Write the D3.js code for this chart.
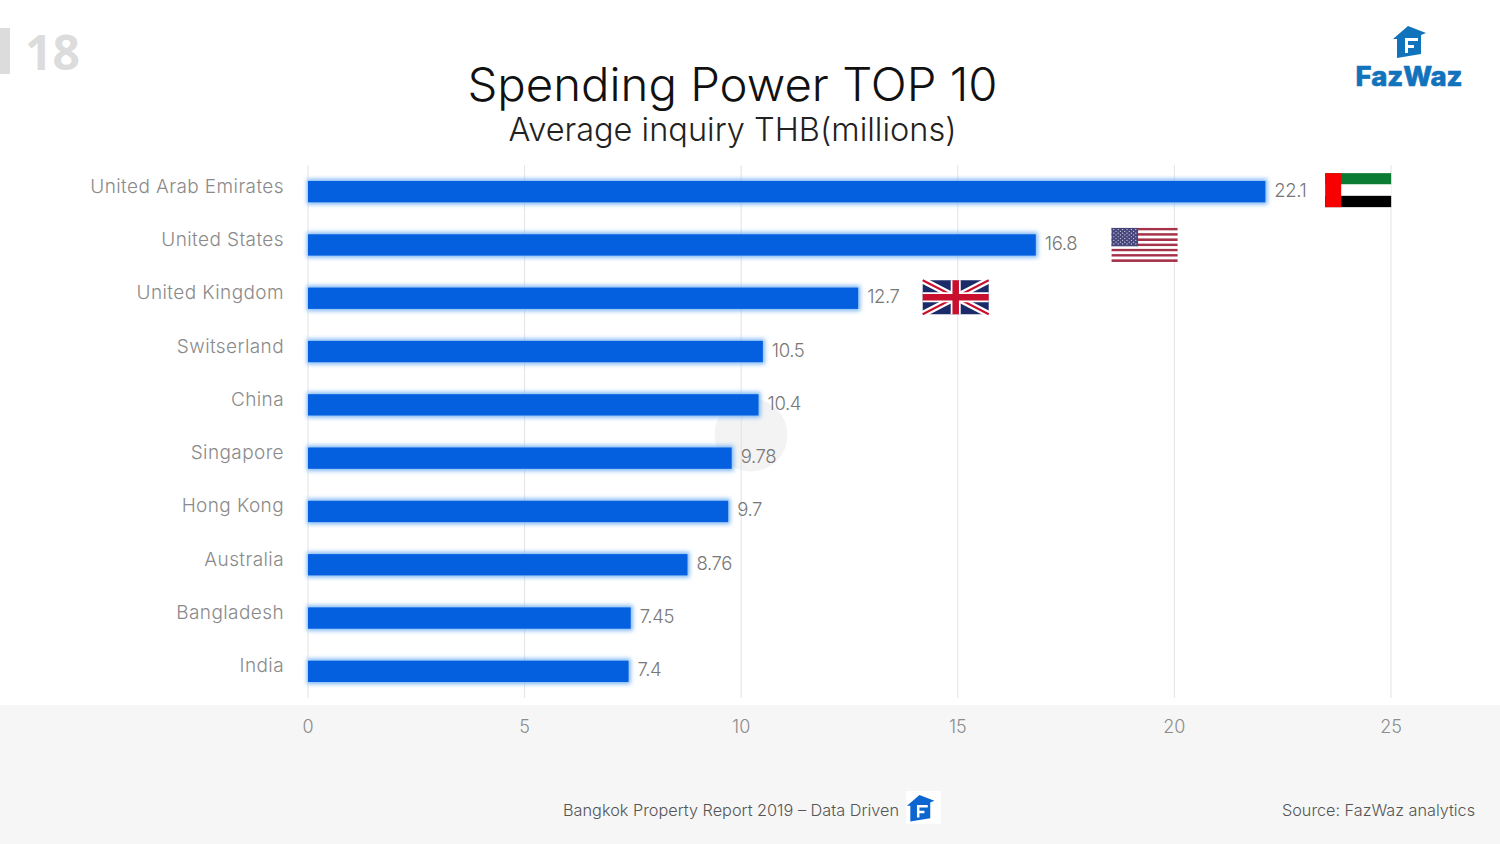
<!DOCTYPE html>
<html><head><meta charset="utf-8">
<script src="https://cdn.jsdelivr.net/npm/d3@7"></script>
<style>html,body{margin:0;padding:0;background:#fff;overflow:hidden}svg{display:block}text{font-family:Inter,"Noto Sans",sans-serif}</style>
</head><body><svg id="c" width="1500" height="844"></svg>
<script>
const categories=["United Arab Emirates","United States","United Kingdom","Switserland","China","Singapore","Hong Kong","Australia","Bangladesh","India"];
const values=[22.1,16.8,12.7,10.5,10.4,9.78,9.7,8.76,7.45,7.4];
const valueLabels=["22.1","16.8","12.7","10.5","10.4","9.78","9.7","8.76","7.45","7.4"];
const axisTicks=[0,5,10,15,20,25];
const flagStart={"United Arab Emirates":23.48,"United States":18.55,"United Kingdom":14.19};

const svg=d3.select("#c");
const x=d3.scaleLinear().domain([0,25]).range([308,1391]);
const y=d3.scaleBand().domain(categories).range([165,698]).paddingInner(0.6).paddingOuter(0.3);
const defs=svg.append("defs");
const f=defs.append("filter").attr("id","glow").attr("x","-5%").attr("y","-60%").attr("width","110%").attr("height","220%");
f.append("feGaussianBlur").attr("stdDeviation",2.2);

// footer
svg.append("rect").attr("x",0).attr("y",705).attr("width",1500).attr("height",139).attr("fill","#f6f6f6");
// watermark circle
svg.append("circle").attr("cx",751).attr("cy",435).attr("r",36.5).attr("fill","#f3f3f3");
// page number
svg.append("rect").attr("x",0).attr("y",28).attr("width",10).attr("height",46).attr("fill","#dcdcdc");
svg.append("text").attr("x",25).attr("y",70).attr("font-size",48).attr("font-weight",700).attr("fill","#dcdcdc").style("font-family","'Open Sans'").text("18");
// titles
svg.append("text").attr("x",732.5).attr("y",101).attr("text-anchor","middle").attr("font-size",46).attr("font-weight",300).attr("fill","#111").attr("textLength",530).attr("lengthAdjust","spacingAndGlyphs").text("Spending Power TOP 10");
svg.append("text").attr("x",732.5).attr("y",141).attr("text-anchor","middle").attr("font-size",33).attr("font-weight",300).attr("fill","#222").attr("textLength",448).attr("lengthAdjust","spacingAndGlyphs").text("Average inquiry THB(millions)");

// grid
svg.append("g").selectAll("line").data(axisTicks).join("line")
 .attr("x1",d=>x(d)).attr("x2",d=>x(d)).attr("y1",165).attr("y2",698).attr("stroke","#e3e3e3").attr("stroke-width",1);
// axis labels
svg.append("g").selectAll("text").data(axisTicks).join("text")
 .attr("x",d=>x(d)).attr("y",733).attr("text-anchor","middle").attr("font-size",18).attr("font-weight",300).attr("fill","#8c8c8c").text(d=>d);
// bars
svg.append("g").selectAll("rect").data(values).join("rect")
 .attr("x",x(0)-1).attr("y",(d,i)=>y(categories[i])-2).attr("width",d=>x(d)-x(0)+3).attr("height",y.bandwidth()+4)
 .attr("fill","#7db6f5").attr("filter","url(#glow)");
svg.append("g").selectAll("rect").data(values).join("rect")
 .attr("x",x(0)).attr("y",(d,i)=>y(categories[i])).attr("width",d=>x(d)-x(0)).attr("height",y.bandwidth()).attr("fill","#0560e0");
// category labels
svg.append("g").selectAll("text").data(categories).join("text")
 .attr("x",284).attr("y",d=>y(d)+y.bandwidth()/2+1).attr("text-anchor","end").attr("font-size",19).attr("font-weight",300).attr("letter-spacing",0.4).attr("fill","#8a8a8a").text(d=>d);
// value labels
svg.append("g").selectAll("text").data(values).join("text")
 .attr("x",d=>x(d)+9).attr("y",(d,i)=>y(categories[i])+y.bandwidth()/2+5).attr("font-size",18.5).attr("font-weight",300).attr("letter-spacing",-0.4).attr("fill","#777").text((d,i)=>valueLabels[i]);

// flags
const W=66,H=34;
function flag(name,dy){return svg.append("g").attr("transform",`translate(${x(flagStart[name])},${y(name)+y.bandwidth()/2-H/2+dy})`);}
{const g=flag("United Arab Emirates",-1.5);
 [["#0b7a33",0],["#fff",1],["#000",2]].forEach(([c,i])=>g.append("rect").attr("y",i*H/3).attr("width",W).attr("height",H/3).attr("fill",c));
 g.append("rect").attr("width",16).attr("height",H).attr("fill","#f60000");}
{const g=flag("United States",0);
 d3.range(13).forEach(i=>g.append("rect").attr("y",i*H/13).attr("width",W).attr("height",H/13).attr("fill",i%2?"#fff":"#a6324a"));
 g.append("rect").attr("width",26.5).attr("height",H*7/13).attr("fill","#47467c");
 d3.range(9).forEach(r=>d3.range(r%2?5:6).forEach(c=>g.append("circle").attr("cx",2.2+(r%2?2.2:0)+c*4.4).attr("cy",1.6+r*1.8).attr("r",.6).attr("fill","#dfe0ee")));}
{const g=flag("United Kingdom",-1);
 g.append("rect").attr("width",W).attr("height",H).attr("fill","#1b2a68");
 const ln=(x1,y1,x2,y2,c,w)=>g.append("line").attr("x1",x1).attr("y1",y1).attr("x2",x2).attr("y2",y2).attr("stroke",c).attr("stroke-width",w);
 ln(0,0,W,H,"#fff",6.5);ln(W,0,0,H,"#fff",6.5);ln(0,0,W,H,"#c8102e",2);ln(W,0,0,H,"#c8102e",2);
 ln(W/2,0,W/2,H,"#fff",10);ln(0,H/2,W,H/2,"#fff",10);ln(W/2,0,W/2,H,"#c8102e",6.5);ln(0,H/2,W,H/2,"#c8102e",6.5);}

// logo icon
function house(tx,ty,s,col){
 const g=svg.append("g").attr("transform",`translate(${tx},${ty}) scale(${s})`);
 g.append("path").attr("fill",col).attr("fill-rule","evenodd").attr("d","M0 13 L15 0 L33 7 L28 9 L28 28 L4 32 L4 13 Z M12 12 L12 27 L15 27 L15 22 L21 22 L21 19 L15 19 L15 15 L25 15 L25 12 Z");
}
house(1393,26,1,"#1273bd");
svg.append("text").attr("x",1409).attr("y",86).attr("text-anchor","middle").attr("font-size",27).attr("font-weight",800).attr("fill","#1273bd").attr("stroke","#1273bd").attr("stroke-width",.6).attr("textLength",107).attr("lengthAdjust","spacingAndGlyphs").text("FazWaz");
// footer
svg.append("rect").attr("x",906).attr("y",791).attr("width",35).attr("height",33).attr("fill","#fff");
house(907,795,.83,"#0d66d0");
svg.append("text").attr("x",563).attr("y",816).attr("font-size",16).attr("font-weight",300).attr("fill","#555").attr("textLength",336).attr("lengthAdjust","spacingAndGlyphs").text("Bangkok Property Report 2019 – Data Driven");
svg.append("text").attr("x",1475).attr("y",816).attr("text-anchor","end").attr("font-size",16).attr("font-weight",300).attr("fill","#555").attr("textLength",193).attr("lengthAdjust","spacingAndGlyphs").text("Source: FazWaz analytics");
</script></body></html>
